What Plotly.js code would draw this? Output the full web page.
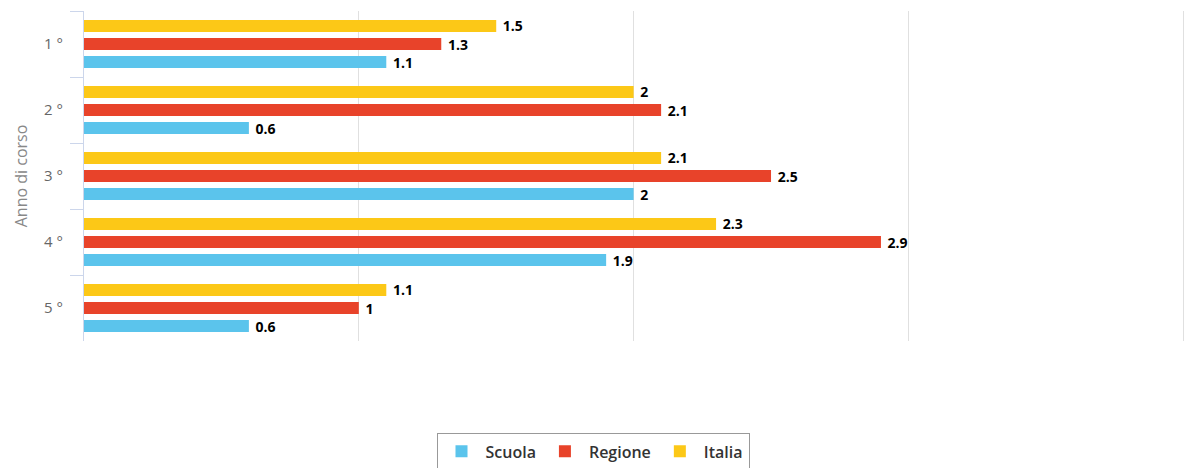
<!DOCTYPE html>
<html><head><meta charset="utf-8">
<script src="https://cdn.plot.ly/plotly-3.0.1.min.js"></script>
<style>html,body{margin:0;padding:0;background:#fff}#chart{width:1186px;height:468px}</style>
</head><body><div id="chart"></div>
<script>
const categories = ["1 °", "2 °", "3 °", "4 °", "5 °"];
const scuola = [1.1, 0.6, 2, 1.9, 0.6];
const regione = [1.3, 2.1, 2.5, 2.9, 1];
const italia = [1.5, 2, 2.1, 2.3, 1.1];

function tr(name, vals, color) {
  return {
    type: 'bar', orientation: 'h', name: name, y: categories, x: vals,
    marker: {color: color},
    text: vals.map(v => '\u00a0<b>' + v + '</b>'),
    textposition: 'outside', cliponaxis: false, constraintext: 'none',
    textfont: {family: 'Open Sans, sans-serif', size: 14, color: '#000'},
    hoverinfo: 'x+name'
  };
}
const data = [
  tr('Italia', italia, '#fcc817'),
  tr('Regione', regione, '#e8432a'),
  tr('Scuola', scuola, '#5bc4ec')
];
const layout = {
  width: 1186, height: 468,
  margin: {l: 84, r: 0, t: 11, b: 127, autoexpand: false},
  barmode: 'group', bargap: 0.18, bargroupgap: 0.33,
  showlegend: true,
  legend: {orientation: 'h', traceorder: 'reversed', xref: 'container', x: 0.5, xanchor: 'center',
    yref: 'container', y: 0.074, yanchor: 'top', bordercolor: '#999', borderwidth: 1,
    itemwidth: 38,
    font: {family: 'Open Sans, sans-serif', size: 16, color: '#333', weight: 600}},
  xaxis: {range: [0, 4.01], dtick: 1, tick0: 0, showticklabels: false, showgrid: true, gridcolor: '#e0e0e0',
    zeroline: false, showline: false, fixedrange: true, automargin: false},
  yaxis: {autorange: 'reversed', tickson: 'boundaries', ticks: 'outside', ticklen: 13,
    tickcolor: '#ccd6eb', showline: true, linecolor: '#ccd6eb', linewidth: 1,
    ticklabelstandoff: 17,
    tickfont: {family: 'Open Sans, sans-serif', size: 15, color: '#666'},
    title: {text: 'Anno di corso', font: {family: 'Open Sans, sans-serif', size: 16, color: '#888'}, standoff: 12},
    showgrid: false, zeroline: false, fixedrange: true, automargin: false},
  paper_bgcolor: '#fff', plot_bgcolor: '#fff',
  font: {family: 'Open Sans, sans-serif'}
};
Plotly.newPlot('chart', data, layout, {displayModeBar: false});
</script></body></html>
